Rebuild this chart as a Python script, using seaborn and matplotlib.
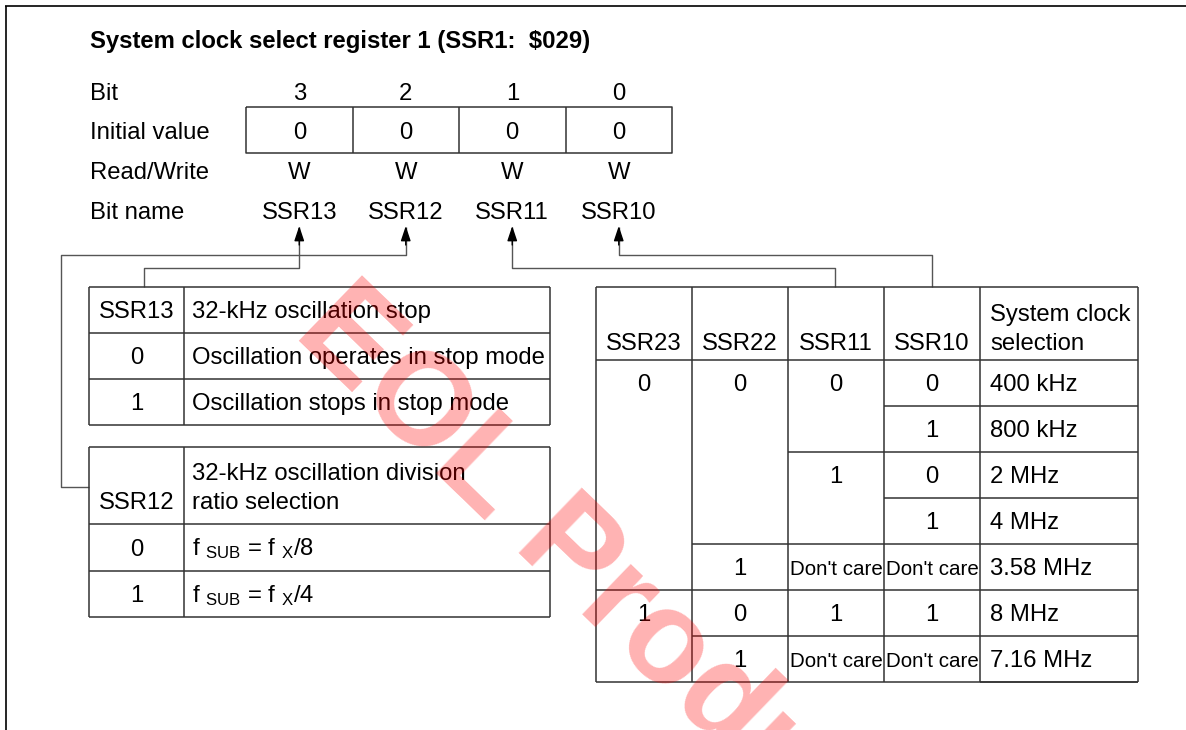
import matplotlib
matplotlib.use("Agg")
import matplotlib.pyplot as plt
import seaborn as sns

# Register layout (bit 3 .. bit 0)
bit_numbers = ["3", "2", "1", "0"]
initial_values = ["0", "0", "0", "0"]
read_write = ["W", "W", "W", "W"]
bit_names = ["SSR13", "SSR12", "SSR11", "SSR10"]
row_labels = ["Bit", "Initial value", "Read/Write", "Bit name"]

# SSR13 table
ssr13_header = "32-kHz oscillation stop"
ssr13_values = ["0", "1"]
ssr13_text = ["Oscillation operates in stop mode", "Oscillation stops in stop mode"]

# SSR12 table
ssr12_header = ["32-kHz oscillation division", "ratio selection"]
ssr12_values = ["0", "1"]
ssr12_text = [r"f $_{\rm SUB}$ = f $_{\rm X}$/8", r"f $_{\rm SUB}$ = f $_{\rm X}$/4"]

# system clock table: (value, rows spanned)
clock_headers = ["SSR23", "SSR22", "SSR11", "SSR10"]
ssr23_col = [("0", 5), ("1", 2)]
ssr22_col = [("0", 4), ("1", 1), ("0", 1), ("1", 1)]
ssr11_col = [("0", 2), ("1", 2), ("Don't care", 1), ("1", 1), ("Don't care", 1)]
ssr10_col = [("0", 1), ("1", 1), ("0", 1), ("1", 1), ("Don't care", 1), ("1", 1), ("Don't care", 1)]
clock_sel = ["400 kHz", "800 kHz", "2 MHz", "4 MHz", "3.58 MHz", "8 MHz", "7.16 MHz"]

sns.set_style("white")
plt.rcParams["font.family"] = ["Liberation Sans", "DejaVu Sans"]
plt.rcParams["mathtext.fontset"] = "custom"
plt.rcParams["mathtext.rm"] = "Liberation Sans"
plt.rcParams["mathtext.it"] = "Liberation Sans"

FS = 17.2
LC = "#333333"

fig = plt.figure(figsize=(11.86, 7.30), dpi=100)
ax = fig.add_axes([0, 0, 1, 1])
ax.set_xlim(0, 1186)
ax.set_ylim(730, 0)
ax.axis("off")


def line(xs, ys, lw=1.1, color=LC):
    ax.plot(xs, ys, color=color, lw=lw, solid_capstyle="butt")


def txt(x, y, s, ha="center", **kw):
    # y is the vertical middle of capital letters
    kw.setdefault("fontsize", FS)
    ax.text(x, y + 8, s, ha=ha, va="baseline", color="black", **kw)


# page frame
line([5, 1186], [6, 6], lw=1.2, color="black")
line([6, 6], [6, 730], lw=1.2, color="black")

txt(90, 40, "System clock select register 1 (SSR1:  $029)", ha="left", fontweight="bold")

# register box
reg_x = [246 + i * 106.5 for i in range(5)]
reg_c = [(reg_x[i] + reg_x[i + 1]) / 2 for i in range(4)]
row_y = [92, 131, 171, 211]
for lab, y in zip(row_labels, row_y):
    txt(90, y, lab, ha="left")
for row, y in zip([bit_numbers, initial_values, read_write, bit_names], row_y):
    for x, s in zip(reg_c, row):
        txt(x, y, s)
line([reg_x[0], reg_x[-1], reg_x[-1], reg_x[0], reg_x[0]], [107, 107, 153, 153, 107])
for x in reg_x[1:-1]:
    line([x, x], [107, 153])

# connectors from bit names to the tables
paths = [
    ([reg_c[0], 144, 144], [268, 268, 287]),
    ([reg_c[1], 61, 61, 89], [255, 255, 487, 487]),
    ([reg_c[2], 835, 835], [268, 268, 287]),
    ([reg_c[3], 932, 932], [255, 255, 287]),
]
for xs, ys in paths:
    line([xs[0]] + xs, [227] + ys, lw=1.0, color="#555555")
    ax.annotate("", xy=(xs[0], 226), xytext=(xs[0], 245),
                arrowprops=dict(arrowstyle="-|>,head_length=0.75,head_width=0.25",
                                mutation_scale=12, color="black", lw=1.0,
                                shrinkA=0, shrinkB=0))

# SSR13 table
lx = [89, 184, 550]
y13 = [287, 333, 379, 425]
for y in y13:
    line([lx[0], lx[2]], [y, y])
for x in lx:
    line([x, x], [y13[0], y13[-1]])
txt(136.5, 310, "SSR13")
txt(192, 310, ssr13_header, ha="left")
for i, (v, t) in enumerate(zip(ssr13_values, ssr13_text)):
    yc = (y13[i + 1] + y13[i + 2]) / 2
    txt(136.5, yc, v)
    txt(192, yc, t, ha="left")

# SSR12 table
y12 = [447, 524, 571, 617]
for y in y12:
    line([lx[0], lx[2]], [y, y])
for x in lx:
    line([x, x], [y12[0], y12[-1]])
txt(136.5, 501, "SSR12")
txt(192, 472, ssr12_header[0], ha="left")
txt(192, 501, ssr12_header[1], ha="left")
for i, (v, t) in enumerate(zip(ssr12_values, ssr12_text)):
    yc = (y12[i + 1] + y12[i + 2]) / 2
    txt(136.5, yc, v)
    txt(192, yc, t, ha="left")

# system clock selection table
cx = [596, 692, 788, 884, 980, 1138]
top, hdr, rh = 287, 360, 46
rows_y = [hdr + i * rh for i in range(len(clock_sel) + 1)]
line([cx[0], cx[-1]], [top, top])
line([cx[0], cx[-1]], [hdr, hdr])
line([cx[0], cx[-1]], [rows_y[-1], rows_y[-1]])
for x in cx:
    line([x, x], [top, rows_y[-1]])
for i, h in enumerate(clock_headers):
    txt((cx[i] + cx[i + 1]) / 2, 342, h)
txt(990, 313, "System clock", ha="left")
txt(990, 342, "selection", ha="left")

for ci, col in enumerate([ssr23_col, ssr22_col, ssr11_col, ssr10_col]):
    r = 0
    for v, span in col:
        yc = (rows_y[r] + rows_y[r + 1]) / 2
        fs = 14.8 if v == "Don't care" else FS
        txt((cx[ci] + cx[ci + 1]) / 2, yc, v, fontsize=fs)
        r += span
        if r < len(clock_sel):
            line([cx[ci], cx[ci + 1]], [rows_y[r], rows_y[r]])
for i, s in enumerate(clock_sel):
    txt(990, (rows_y[i] + rows_y[i + 1]) / 2, s, ha="left")
    line([cx[4], cx[5]], [rows_y[i + 1], rows_y[i + 1]])

# watermark
ax.text(292, 334, "EOL Products", rotation=-44, rotation_mode="anchor",
        ha="left", va="baseline", fontsize=95, fontweight="bold",
        color="red", alpha=0.3, zorder=10)

fig.savefig("out.png", dpi=100)
